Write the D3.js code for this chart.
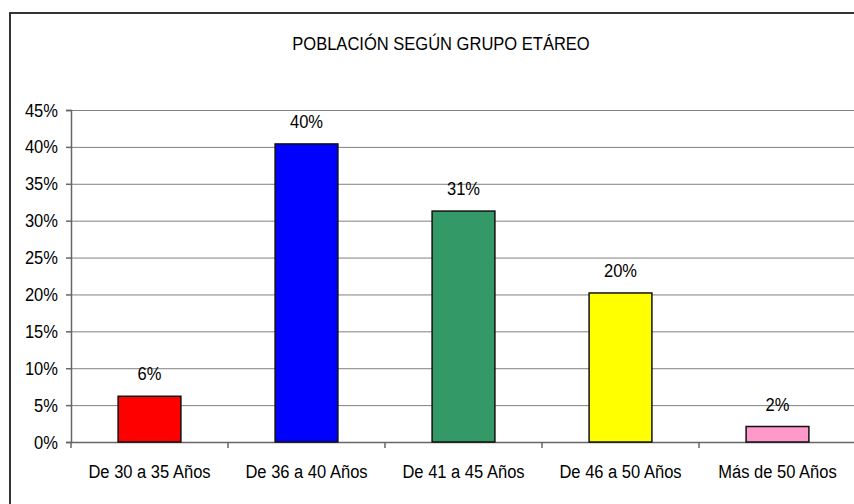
<!DOCTYPE html>
<html><head><meta charset="utf-8">
<script src="https://cdn.jsdelivr.net/npm/d3@7"></script>
<style>
body{margin:0;background:#fff;}
svg text{font-family:'Liberation Sans','Arial',sans-serif;fill:#000;}
</style></head>
<body><svg id="c" width="854" height="504"></svg>
<script>
const categories = ["De 30 a 35 Años","De 36 a 40 Años","De 41 a 45 Años","De 46 a 50 Años","Más de 50 Años"];
const values = [6.2, 40.4, 31.3, 20.2, 2.1];
const valueLabels = ["6%","40%","31%","20%","2%"];
const colors = ["#FF0000","#0000FF","#339966","#FFFF00","#FF99CC"];
const yTicks = [0,5,10,15,20,25,30,35,40,45];
const title = "POBLACIÓN SEGÚN GRUPO ETÁREO";

const SX = 0.87, FS = 19;
const svg = d3.select("#c");
// chart frame
svg.append("rect").attr("x",10).attr("y",13).attr("width",870).attr("height",520)
  .attr("fill","#fff").attr("stroke","#333").attr("stroke-width",2);

const pL=71, pR=856, pT=110, pB=442;
const x = d3.scaleBand().domain(categories).range([pL,pR]).paddingInner(0).paddingOuter(0);
const y = d3.scaleLinear().domain([0,45]).range([pB,pT]);

svg.append("text").attr("transform",`translate(441,50) scale(${SX},1)`).attr("text-anchor","middle")
  .attr("font-size",FS).text(title);

// gridlines
svg.append("g").selectAll("line").data(yTicks.filter(d=>d>0)).join("line")
  .attr("x1",pL).attr("x2",pR).attr("y1",d=>y(d)+0.5).attr("y2",d=>y(d)+0.5)
  .attr("stroke","#808080").attr("stroke-width",1);

// y axis
const ya = svg.append("g").attr("transform",`translate(${pL},0)`)
  .call(d3.axisLeft(y).tickValues(yTicks).tickFormat(d=>d+"%").tickSize(5).tickPadding(8));
ya.attr("font-family",null).attr("font-size",null);
ya.select(".domain").attr("stroke","#666").attr("stroke-width",1.5);
ya.selectAll(".tick line").attr("stroke","#666").attr("stroke-width",1.5);
ya.selectAll(".tick text").attr("font-size",FS).attr("x",-13/SX).attr("transform",`scale(${SX},1)`);

// x axis
const xa = svg.append("g").attr("transform",`translate(0,${pB})`)
  .call(d3.axisBottom(x).tickSize(0).tickPadding(23));
xa.attr("font-family",null).attr("font-size",null);
xa.select(".domain").attr("stroke","#666").attr("stroke-width",1.5);
xa.selectAll(".tick text").attr("font-size",FS).attr("transform",`scale(${SX},1)`);
// category separator ticks
xa.append("g").selectAll("line").data(categories).join("line")
  .attr("x1",d=>x(d)).attr("x2",d=>x(d)).attr("y1",0).attr("y2",6)
  .attr("stroke","#666").attr("stroke-width",1.5);

// bars
const bw = x.bandwidth()*0.4;
svg.append("g").selectAll("rect").data(values).join("rect")
  .attr("x",(d,i)=>x(categories[i])+x.bandwidth()/2-bw/2)
  .attr("width",bw)
  .attr("y",d=>y(d)).attr("height",d=>y(0)-y(d))
  .attr("fill",(d,i)=>colors[i]).attr("stroke","#111").attr("stroke-width",1.5);

// value labels
svg.append("g").selectAll("text").data(values).join("text")
  .attr("transform",(d,i)=>`translate(${x(categories[i])+x.bandwidth()/2},${y(d)-16}) scale(${SX},1)`)
  .attr("text-anchor","middle").attr("font-size",FS)
  .text((d,i)=>valueLabels[i]);
</script></body></html>
